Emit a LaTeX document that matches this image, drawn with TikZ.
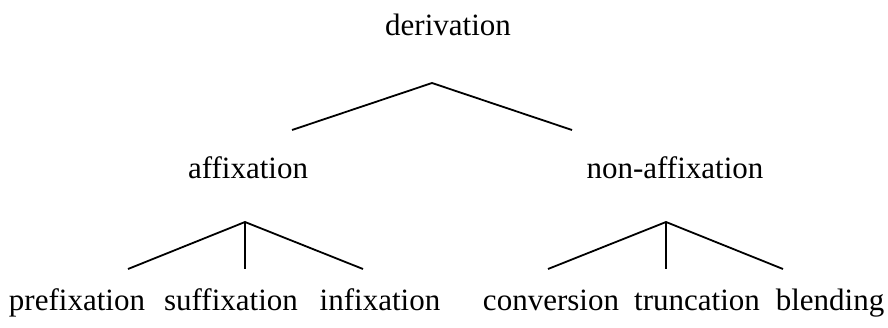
\documentclass[tikz,border=0pt]{standalone}
\usepackage{fontspec}
\setmainfont{Liberation Serif}
\usepackage{tikz}
\usetikzlibrary{positioning}
\tikzset{
    treelabel/.style={anchor=base, inner sep=0pt, font=\fontsize{31}{36}\selectfont},
    treeline/.style={draw, line width=1.8pt}
}

\begin{document}
\begin{tikzpicture}[x=1pt, y=-1pt]
    \useasboundingbox (0,0) rectangle (888,327);
    \node[treelabel] (derivation) at (448,35) {derivation};
    \node[treelabel] (affix) at (248,178) {affixation};
    \node[treelabel] (nonaffix) at (675,178) {non-affixation};
    \node[treelabel] (prefix) at (77,310) {prefixation};
    \node[treelabel] (suffix) at (231,310) {suffixation};
    \node[treelabel] (infix) at (380,310) {infixation};
    \node[treelabel] (conversion) at (551,310) {conversion};
    \node[treelabel] (truncation) at (697,310) {truncation};
    \node[treelabel] (blending) at (830,310) {blending};

    \coordinate (top) at (432,83);
    \coordinate (topl) at (292,130);
    \coordinate (topr) at (572,130);
    \coordinate (affixtop) at (245,222);
    \coordinate (prefixend) at (128,269);
    \coordinate (suffixend) at (245,269);
    \coordinate (infixend) at (363,269);
    \coordinate (nonaffixtop) at (666,222);
    \coordinate (conversionend) at (548,269);
    \coordinate (truncationend) at (666,269);
    \coordinate (blendingend) at (783,269);

    \draw[treeline] (topl) -- (top) -- (topr);
    \draw[treeline] (prefixend) -- (affixtop) -- (infixend);
    \draw[treeline] (affixtop) -- (suffixend);
    \draw[treeline] (conversionend) -- (nonaffixtop) -- (blendingend);
    \draw[treeline] (nonaffixtop) -- (truncationend);
\end{tikzpicture}
\end{document}
